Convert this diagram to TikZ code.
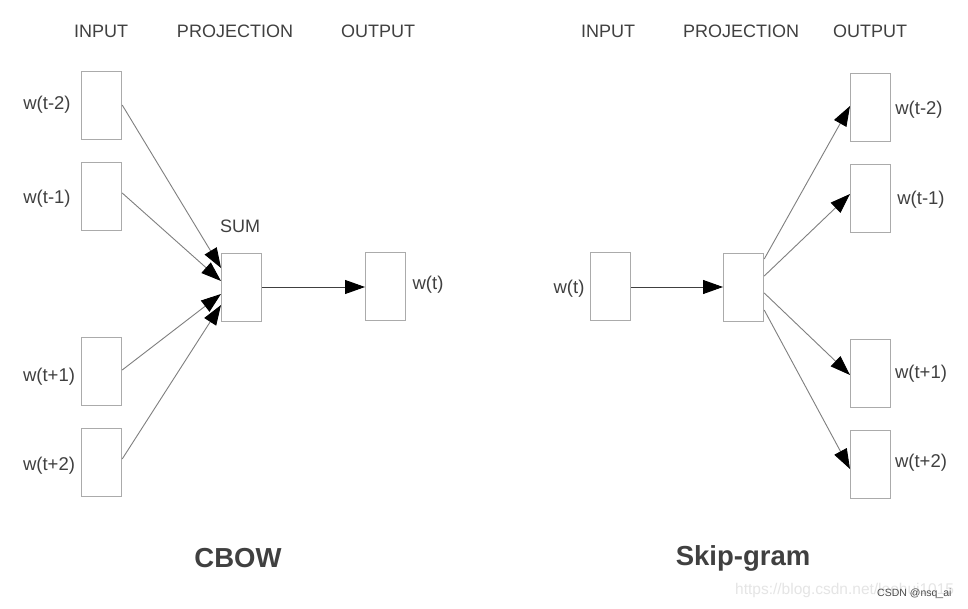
\documentclass[tikz,border=0pt]{standalone}
\usepackage{fontspec}
\setmainfont{Liberation Sans}
\usetikzlibrary{arrows.meta}
\definecolor{txt}{HTML}{404040}
\definecolor{boxc}{HTML}{ABABAB}
\definecolor{linec}{HTML}{7F7F7F}
\begin{document}
\begin{tikzpicture}[x=1pt,y=-1pt,
  vec/.style={draw=boxc,line width=1.2pt,minimum width=40pt,minimum height=68pt,inner sep=0pt,anchor=north west},
  hdr/.style={text=txt,font=\fontsize{18}{20}\selectfont,inner sep=0pt},
  lbl/.style={text=txt,font=\fontsize{18.5}{20}\selectfont,inner sep=0pt},
  ttl/.style={text=txt,font=\fontsize{27.5}{30}\selectfont\bfseries,inner sep=0pt},
  conn/.style={draw=linec,line width=0.9pt,-{Triangle[length=20pt,width=14pt,color=black]}},
  conn2/.style={draw=black!75,line width=0.9pt,-{Triangle[length=20pt,width=14pt,color=black]}}]
\useasboundingbox[fill=white] (0,0) rectangle (968,609);
% ---------- CBOW ----------
\node[hdr] (h1) at (101,31) {INPUT};
\node[hdr] (h2) at (235,31) {PROJECTION};
\node[hdr] (h3) at (378,31) {OUTPUT};
\node[vec] (cm2) at (81,71) {};
\node[vec] (cm1) at (81,162) {};
\node[vec] (cp1) at (81,337) {};
\node[vec] (cp2) at (81,428) {};
\node[vec] (sum) at (221,253) {};
\node[vec] (cout) at (365,252) {};
\node[lbl] (lcm2) at (47,105) {w(t-2)};
\node[lbl] (lcm1) at (47,199) {w(t-1)};
\node[lbl] (lcp1) at (49,377) {w(t+1)};
\node[lbl] (lcp2) at (49,466) {w(t+2)};
\node[hdr] (lsum) at (240,226) {SUM};
\node[lbl] (lcout) at (428,285) {w(t)};
\coordinate (s1) at (221,268);
\coordinate (s2) at (221,281);
\coordinate (s3) at (221,294);
\coordinate (s4) at (221,305);
\draw[conn] (cm2.east |- 0,105) -- (s1);
\draw[conn] (cm1.east |- 0,193) -- (s2);
\draw[conn] (cp1.east |- 0,370) -- (s3);
\draw[conn] (cp2.east |- 0,459) -- (s4);
\draw[conn2] (sum.east |- 0,287) -- (cout.west |- 0,287);
\node[ttl] (t1) at (238,558) {CBOW};
% ---------- Skip-gram ----------
\node[hdr] (g1) at (608,31) {INPUT};
\node[hdr] (g2) at (741,31) {PROJECTION};
\node[hdr] (g3) at (870,31) {OUTPUT};
\node[vec] (sin) at (590,252) {};
\node[vec] (proj) at (723,253) {};
\node[vec] (om2) at (850,73) {};
\node[vec] (om1) at (850,164) {};
\node[vec] (op1) at (850,339) {};
\node[vec] (op2) at (850,430) {};
\node[lbl] (lsin) at (569,289) {w(t)};
\node[lbl] (lom2) at (919,110) {w(t-2)};
\node[lbl] (lom1) at (921,200) {w(t-1)};
\node[lbl] (lop1) at (921,374) {w(t+1)};
\node[lbl] (lop2) at (921,463) {w(t+2)};
\draw[conn2] (sin.east |- 0,287) -- (proj.west |- 0,287);
\draw[conn] (proj.east |- 0,259) -- (om2.west |- 0,106);
\draw[conn] (proj.east |- 0,276) -- (om1.west |- 0,194);
\draw[conn] (proj.east |- 0,293) -- (op1.west |- 0,375);
\draw[conn] (proj.east |- 0,310) -- (op2.west |- 0,469);
\node[ttl] (t2) at (743,558) {Skip-gram};
% ---------- watermark ----------
\node[text=black!10,font=\fontsize{15.5}{17}\selectfont,inner sep=0pt,anchor=west] (wm) at (735,590) {https://blog.csdn.net/leohui1015};
\node[text=black!70,font=\fontsize{10.5}{12}\selectfont,inner sep=0pt,anchor=west] (cs) at (877,594) {CSDN @nsq\_ai};
\end{tikzpicture}
\end{document}
